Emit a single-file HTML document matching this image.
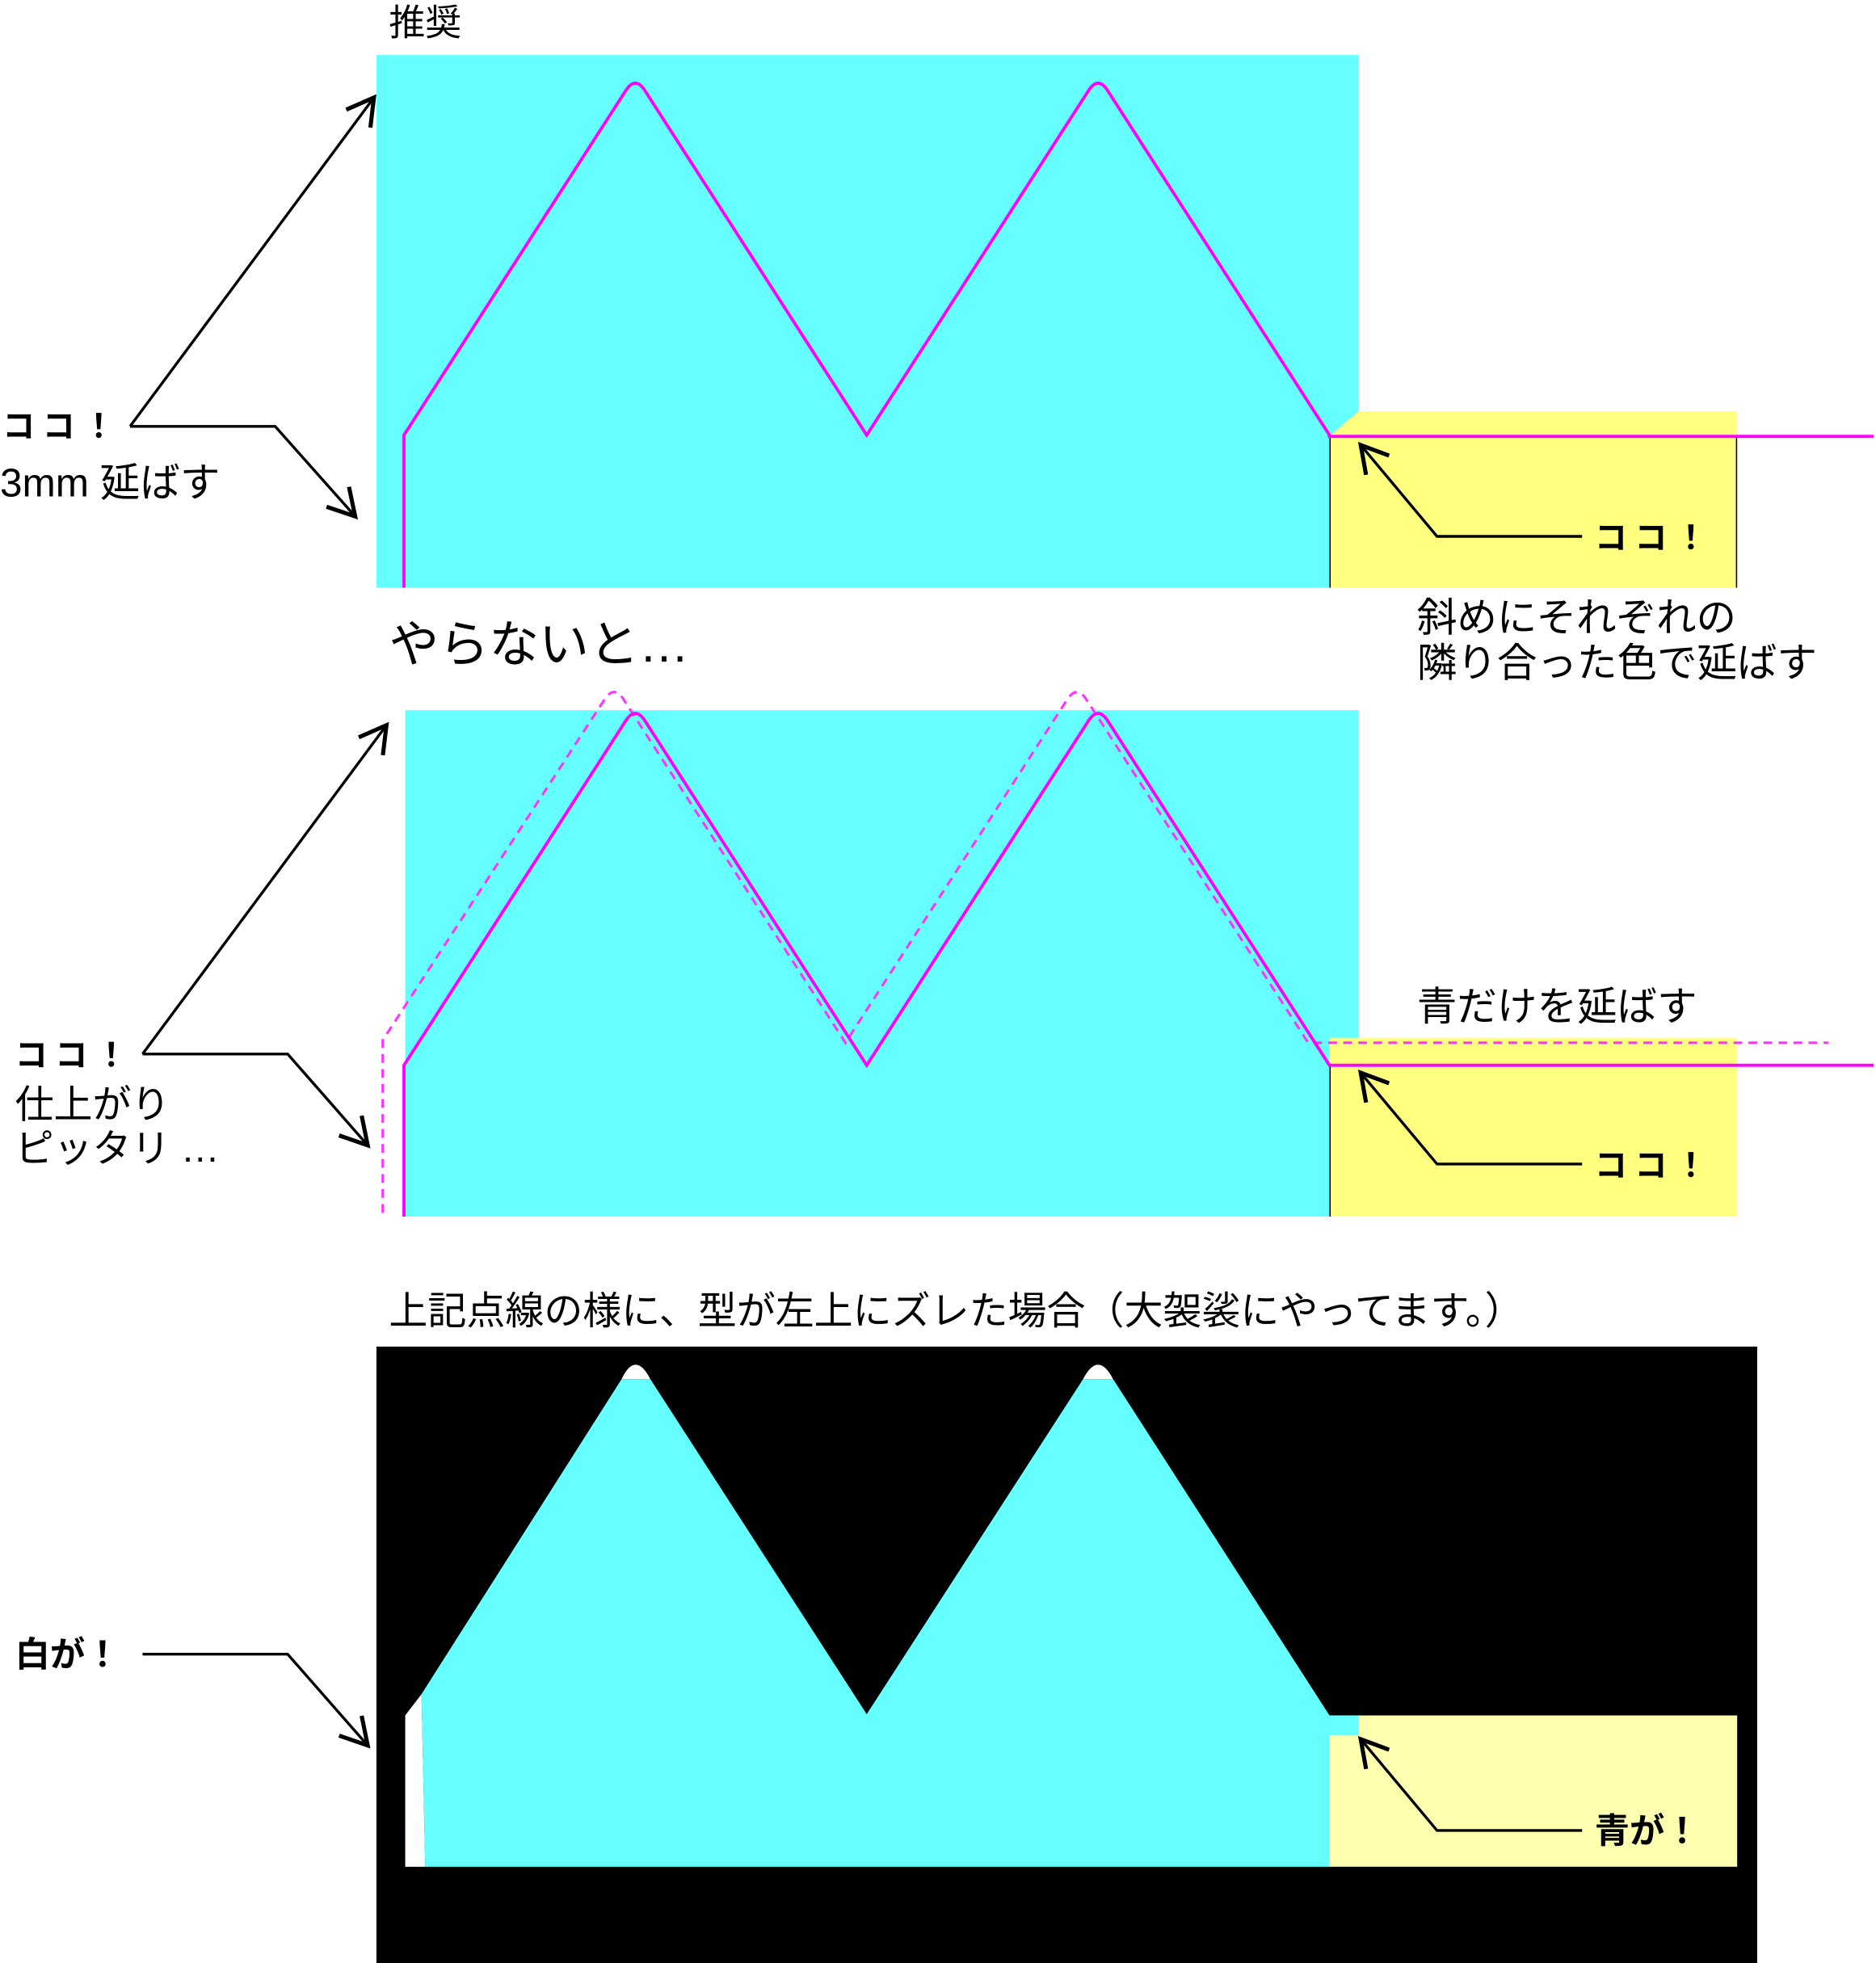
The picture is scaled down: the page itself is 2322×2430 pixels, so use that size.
<!DOCTYPE html>
<html><head><meta charset="utf-8"><style>
html,body{margin:0;padding:0;background:#fff;width:2322px;height:2430px;overflow:hidden}
svg{display:block}
text{font-family:"Liberation Sans","Noto Sans CJK JP",sans-serif;fill:#000}
</style></head><body>
<svg width="2322" height="2430" viewBox="0 0 1500 1570" preserveAspectRatio="none" xmlns="http://www.w3.org/2000/svg">
<defs>
<marker id="ah" markerWidth="30" markerHeight="30" refX="0" refY="0" viewBox="-15 -10 20 20" orient="auto" markerUnits="userSpaceOnUse">
<path d="M-14,-8 L0,0 L-14,8" fill="none" stroke="#000" stroke-width="2.2"/>
</marker>
</defs>

<!-- Panel 1 -->
<text x="311" y="28" font-size="29">推奨</text>
<rect x="301" y="44" width="785" height="426" fill="#66ffff"/>
<polygon points="1063,349 1086,329 1389,329 1389,470 1063,470" fill="#ffff80"/>
<line x1="1063.5" y1="349" x2="1063.5" y2="470" stroke="#000" stroke-width="1"/>
<line x1="1388.5" y1="349" x2="1388.5" y2="470" stroke="#000" stroke-width="1"/>
<path d="M323,470 L323,348 L500,73 Q508,60 516,73 L693,348 L870,73 Q878,60 886,73 L1063,348 L1063,349 L1498,349" fill="none" stroke="#ff00ff" stroke-width="2.5"/>
<text x="2" y="350" font-size="26" font-weight="bold" letter-spacing="6">ココ！</text>
<text x="0" y="397" font-size="32">3mm 延ばす</text>
<path d="M104,341 L299,78" fill="none" stroke="#000" stroke-width="2.2" marker-end="url(#ah)"/>
<path d="M104,341 L220,341 L284,413" fill="none" stroke="#000" stroke-width="2.2" marker-end="url(#ah)"/>
<path d="M1265,429 L1149,429 L1088,356" fill="none" stroke="#000" stroke-width="2.2" marker-end="url(#ah)"/>
<text x="1275" y="439" font-size="26" font-weight="bold" letter-spacing="6">ココ！</text>
<text x="1133" y="505" font-size="32">斜めにそれぞれの</text>
<text x="1133" y="541" font-size="32">隣り合った色で延ばす</text>
<text x="311" y="529" font-size="40">やらないと…</text>

<!-- Panel 2 -->
<rect x="324" y="568" width="762" height="405" fill="#66ffff"/>
<rect x="1063" y="830" width="326" height="143" fill="#ffff80"/>
<line x1="1063.5" y1="852" x2="1063.5" y2="973" stroke="#000" stroke-width="1"/>
<path d="M306,970 L306,832 L483,560 Q491,547 499,560 L676,834 L853,560 Q861,547 869,560 L1046,834 L1462,834" fill="none" stroke="#ff33ff" stroke-width="2" stroke-dasharray="7,5"/>
<path d="M323,973 L323,852 L500,577 Q508,564 516,577 L693,852 L870,577 Q878,564 886,577 L1063,852 L1498,852" fill="none" stroke="#ff00ff" stroke-width="2.5"/>
<text x="1133" y="816" font-size="32">青だけを延ばす</text>
<text x="12" y="853" font-size="26" font-weight="bold" letter-spacing="6">ココ！</text>
<text x="12" y="894" font-size="31">仕上がり</text>
<text x="12" y="929" font-size="31">ピッタリ …</text>
<path d="M114,843 L309,580" fill="none" stroke="#000" stroke-width="2.2" marker-end="url(#ah)"/>
<path d="M114,843 L230,843 L294,916" fill="none" stroke="#000" stroke-width="2.2" marker-end="url(#ah)"/>
<path d="M1265,931 L1149,931 L1088,858" fill="none" stroke="#000" stroke-width="2.2" marker-end="url(#ah)"/>
<text x="1275" y="941" font-size="26" font-weight="bold" letter-spacing="6">ココ！</text>

<!-- Panel 3 -->
<text x="311" y="1059" font-size="31">上記点線の様に、型が左上にズレた場合（大袈裟にやってます。）</text>
<rect x="301" y="1077" width="1104" height="493" fill="#000"/>
<path d="M497,1103 Q508,1080 520,1103 Z" fill="#fff"/>
<path d="M866,1103 Q878,1080 890,1103 Z" fill="#fff"/>
<polygon points="324,1372 337,1355 340,1493 324,1493" fill="#fff"/>
<rect x="1063" y="1372" width="326" height="121" fill="#ffffb0"/>
<polygon points="337,1355 497,1103 520,1103 693,1371 866,1103 890,1103 1063,1372 1086,1372 1086,1388 1063,1388 1063,1493 340,1493" fill="#66ffff"/>
<text x="12" y="1333" font-size="28" font-weight="bold">白が！</text>
<path d="M114,1323 L230,1323 L294,1396" fill="none" stroke="#000" stroke-width="2.2" marker-end="url(#ah)"/>
<path d="M1265,1464 L1149,1464 L1088,1391" fill="none" stroke="#000" stroke-width="2.2" marker-end="url(#ah)"/>
<text x="1275" y="1474" font-size="28" font-weight="bold">青が！</text>
</svg>
</body></html>
